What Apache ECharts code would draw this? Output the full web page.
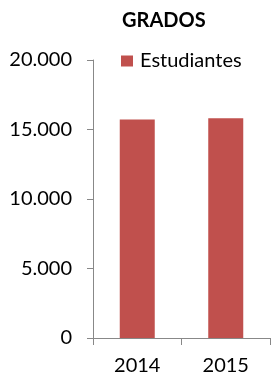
<!DOCTYPE html>
<html>
<head>
<meta charset="utf-8">
<script src="https://cdn.jsdelivr.net/npm/echarts@6/dist/echarts.min.js"></script>
<style>
  html, body { margin: 0; padding: 0; background: #fff; }
  #chart { width: 272px; height: 377px; }
</style>
</head>
<body>
<div id="chart"></div>
<script>
const years = ['2014', '2015']
const estudiantes = [15720, 15810]
const yTicks = [0, 5000, 10000, 15000, 20000]

// 20000 -> "20.000"
const fmtMiles = (v) => String(v).replace(/\B(?=(\d{3})+(?!\d))/g, '.')

const chart = echarts.init(document.getElementById('chart'))
const font = 'Lato, "Liberation Sans", sans-serif'

chart.setOption({
  animation: false,
  title: {
    text: 'GRADOS',
    left: 122,
    top: 11,
    padding: 0,
    textStyle: { fontFamily: font, fontSize: 20, fontWeight: 'bold', color: '#000' }
  },
  legend: {
    data: ['Estudiantes'],
    left: 121,
    top: 51,
    padding: 0,
    icon: 'rect',
    itemWidth: 12,
    itemHeight: 11,
    textStyle: { fontFamily: font, fontSize: 20, color: '#000', padding: [0, 0, 0, 2] }
  },
  grid: {
    left: 93,
    right: 2,
    top: 60,
    bottom: 39
  },
  xAxis: {
    type: 'category',
    data: years,
    axisLine: { lineStyle: { color: '#888', width: 1 } },
    axisTick: { show: true, length: 7, lineStyle: { color: '#888' } },
    axisLabel: { margin: 18, fontFamily: font, fontSize: 20, color: '#000' }
  },
  yAxis: {
    type: 'value',
    min: yTicks[0],
    max: yTicks[yTicks.length - 1],
    interval: yTicks[1] - yTicks[0],
    axisLine: { show: true, lineStyle: { color: '#888', width: 1 } },
    axisTick: { show: true, length: 6, lineStyle: { color: '#888' } },
    splitLine: { show: false },
    axisLabel: {
      margin: 21,
      fontFamily: font,
      fontSize: 20,
      color: '#000',
      formatter: fmtMiles
    }
  },
  series: [
    {
      name: 'Estudiantes',
      type: 'bar',
      barWidth: 35,
      itemStyle: { color: '#C0504D' },
      data: estudiantes
    }
  ]
})
</script>
</body>
</html>
